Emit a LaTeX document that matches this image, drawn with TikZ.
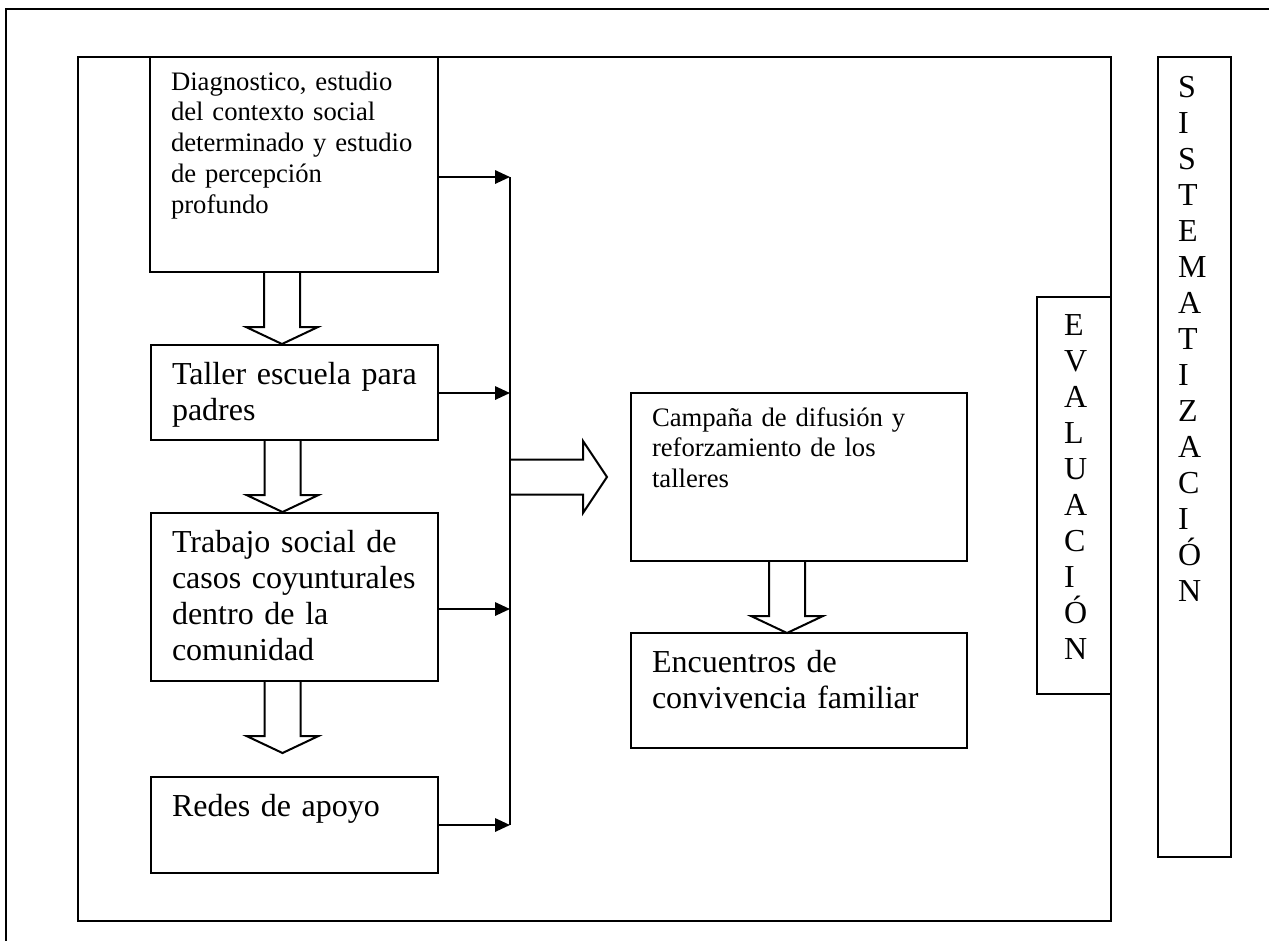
\documentclass[tikz,border=0pt]{standalone}
\usepackage{fontspec}
\setmainfont{Liberation Serif}
\usetikzlibrary{arrows.meta,positioning}

\begin{document}
\begin{tikzpicture}[x=0.375pt, y=-0.375pt]
		\tikzstyle{Box}       = [draw, rectangle, line width=0.75pt, anchor=north west, outer sep=0pt, inner ysep=0pt, inner xsep=7.875pt, align=left]
		\tikzstyle{SmallText} = [font=\fontsize{10pt}{11.6pt}\selectfont, text height=12.375pt]
		\tikzstyle{BigText}   = [font=\fontsize{12pt}{13.6pt}\selectfont, text height=14.625pt]
		\tikzstyle{Letters}   = [font=\fontsize{12pt}{13.5pt}\selectfont]
		\tikzstyle{Feed}      = [-{Triangle[length=5.6pt, width=5pt]}, line width=0.75pt]
		\tikzstyle{Hollow}    = [line width=0.75pt, line join=miter]

		\useasboundingbox (0,0) rectangle (1269,941);

		% page frame and process frame
		\draw [line width=1pt] (1269,9) -- (6,9) -- (6,941);
		\draw [line width=0.75pt] (78,57) rectangle (1111,921);

		\node (diag) at (150,57) [Box][SmallText, text width=92.25pt, text depth=68.25pt] {Diagnostico, estudio\\del contexto social\\determinado y estudio\\de percepción\\profundo};
		\node (taller) at (151,345) [Box][BigText, text width=91.875pt, text depth=21pt] {Taller escuela para\\padres};
		\node (trabajo) at (151,513) [Box][BigText, text width=91.875pt, text depth=48.375pt] {Trabajo social de\\casos coyunturales\\dentro de la\\comunidad};
		\node (redes) at (151,777) [Box][BigText, text width=91.875pt, text depth=21.375pt] {Redes de apoyo};
		\node (campana) at (631,393) [Box][SmallText, text width=110.25pt, text depth=50.625pt] {Campaña de difusión y\\reforzamiento de los\\talleres};
		\node (encuentros) at (631,633) [Box][BigText, text width=110.25pt, text depth=28.5pt] {Encuentros de\\convivencia familiar};
		\node (eval) at (1037,297) [Box][Letters, inner xsep=10.125pt, text width=7.5pt, text height=14.25pt, text depth=134.625pt] {E\\V\\A\\L\\U\\A\\C\\I\\Ó\\N};
		\node (sist) at (1158,57) [Box][Letters, inner xsep=7.5pt, text width=12.375pt, text height=15pt, text depth=285pt] {S\\I\\S\\T\\E\\M\\A\\T\\I\\Z\\A\\C\\I\\Ó\\N};

		% collecting line
		\coordinate (b1) at (510,177);
		\coordinate (b2) at (510,393);
		\coordinate (b3) at (510,609);
		\coordinate (b4) at (510,825);
		\draw [line width=0.75pt] (b1) -- (b4);

		\draw [Feed] (diag.east |- b1) -- (b1);
		\draw [Feed] (taller.east |- b2) -- (b2);
		\draw [Feed] (trabajo.east |- b3) -- (b3);
		\draw [Feed] (redes.east |- b4) -- (b4);

		% hollow arrows
		\foreach \src in {diag, taller, trabajo, campana}
			\draw [Hollow] ([xshift=-4.5pt]\src.south) ++(-18,0) -- ++(0,55) -- ++(-18,0) -- ++(36,17) -- ++(36,-17) -- ++(-18,0) -- ++(0,-55);
		\draw [Hollow] (b1 |- campana.west) ++(0,-17.5) -- ++(73,0) -- ++(0,-18.5) -- ++(24,36) -- ++(-24,36) -- ++(0,-18.5) -- ++(-73,0);
	\end{tikzpicture}
\end{document}
